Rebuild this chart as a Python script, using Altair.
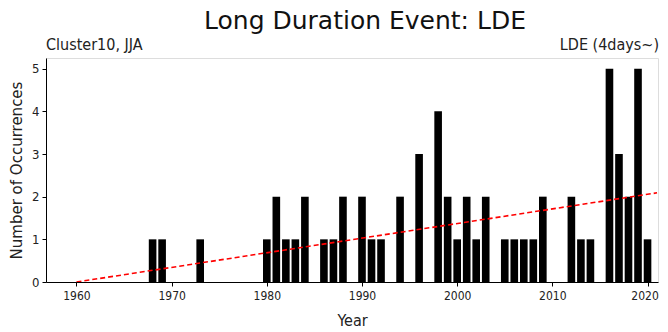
import altair as alt
import pandas as pd

years = [1968, 1969, 1973, 1980, 1981, 1982, 1983, 1984, 1986, 1987, 1988,
         1990, 1991, 1992, 1994, 1996, 1998, 1999, 2000, 2001, 2002, 2003,
         2005, 2006, 2007, 2008, 2009, 2012, 2013, 2014, 2016, 2017, 2018,
         2019, 2020]
counts = [1, 1, 1, 1, 2, 1, 1, 2, 1, 1, 2,
          2, 1, 1, 2, 3, 4, 2, 1, 2, 1, 2,
          1, 1, 1, 1, 2, 2, 1, 1, 5, 3, 2,
          5, 1]
trend_years = [1960, 2021]
trend_vals = [0.0, 2.09]
x_ticks = [1960, 1970, 1980, 1990, 2000, 2010, 2020]
y_ticks = [0, 1, 2, 3, 4, 5]

bars_df = pd.DataFrame({"year": years, "count": counts})
trend_df = pd.DataFrame({"year": trend_years, "val": trend_vals})

W, H = 612, 224
cond = "DejaVu Sans Condensed, DejaVu Sans"

xscale = alt.Scale(domain=[1956.8, 2021.1], nice=False, zero=False)
yscale = alt.Scale(domain=[0, 5.25], nice=False)

xaxis = alt.Axis(title="Year", values=x_ticks, format="d", grid=False,
                 tickColor="#000", domainColor="#000", labelColor="#222",
                 labelFont=cond, labelFontSize=12,
                 labelOffset={"expr": "datum.value == 2020 ? -3 : 0"},
                 titleFont=cond,
                 titleFontSize=16, titleFontWeight="normal", titleColor="#222",
                 tickSize=4, labelPadding=4, titlePadding=11)
yaxis = alt.Axis(title="Number of Occurrences", values=y_ticks, grid=False,
                 tickColor="#000", domainColor="#000", labelColor="#222",
                 labelFont=cond, labelFontSize=13, titleFont="DejaVu Sans",
                 titleFontSize=15, titleFontWeight="normal", titleColor="#222",
                 tickSize=4, labelPadding=3, titlePadding=7)

bars = alt.Chart(bars_df).transform_calculate(
    x0="datum.year - 0.4", x1="datum.year + 0.4"
).mark_rect(color="black").encode(
    x=alt.X("x0:Q", scale=xscale, axis=xaxis),
    x2="x1:Q",
    y=alt.Y("count:Q", scale=yscale, axis=yaxis),
    y2=alt.datum(0),
)

trend = alt.Chart(trend_df).mark_line(
    color="red", strokeDash=[5, 3], strokeWidth=1.6, clip=True
).encode(
    x=alt.X("year:Q", scale=xscale),
    y=alt.Y("val:Q", scale=yscale),
)

title_lbl = alt.Chart(pd.DataFrame({"t": ["Long Duration Event: LDE"]})).mark_text(
    align="center", baseline="alphabetic", font="DejaVu Sans", fontSize=25,
    color="#111"
).encode(x=alt.value(319), y=alt.value(-29), text="t:N")

left_lbl = alt.Chart(pd.DataFrame({"t": ["Cluster10, JJA"]})).mark_text(
    align="left", baseline="alphabetic", font=cond, fontSize=16, color="#222"
).encode(x=alt.value(0), y=alt.value(-8), text="t:N")

right_lbl = alt.Chart(pd.DataFrame({"t": ["LDE (4days~)"]})).mark_text(
    align="right", baseline="alphabetic", font=cond, fontSize=16, color="#222"
).encode(x=alt.value(W + 1), y=alt.value(-8), text="t:N")

chart = alt.layer(bars, trend, title_lbl, left_lbl, right_lbl).properties(
    width=W, height=H,
    autosize=alt.AutoSizeParams(type="none"),
    padding={"left": 38, "top": 50, "right": 2, "bottom": 50},
).configure_view(stroke="#000", strokeWidth=1.5).configure(background="white")

chart.save("out.html", embed_options={"renderer": "svg", "actions": False})
